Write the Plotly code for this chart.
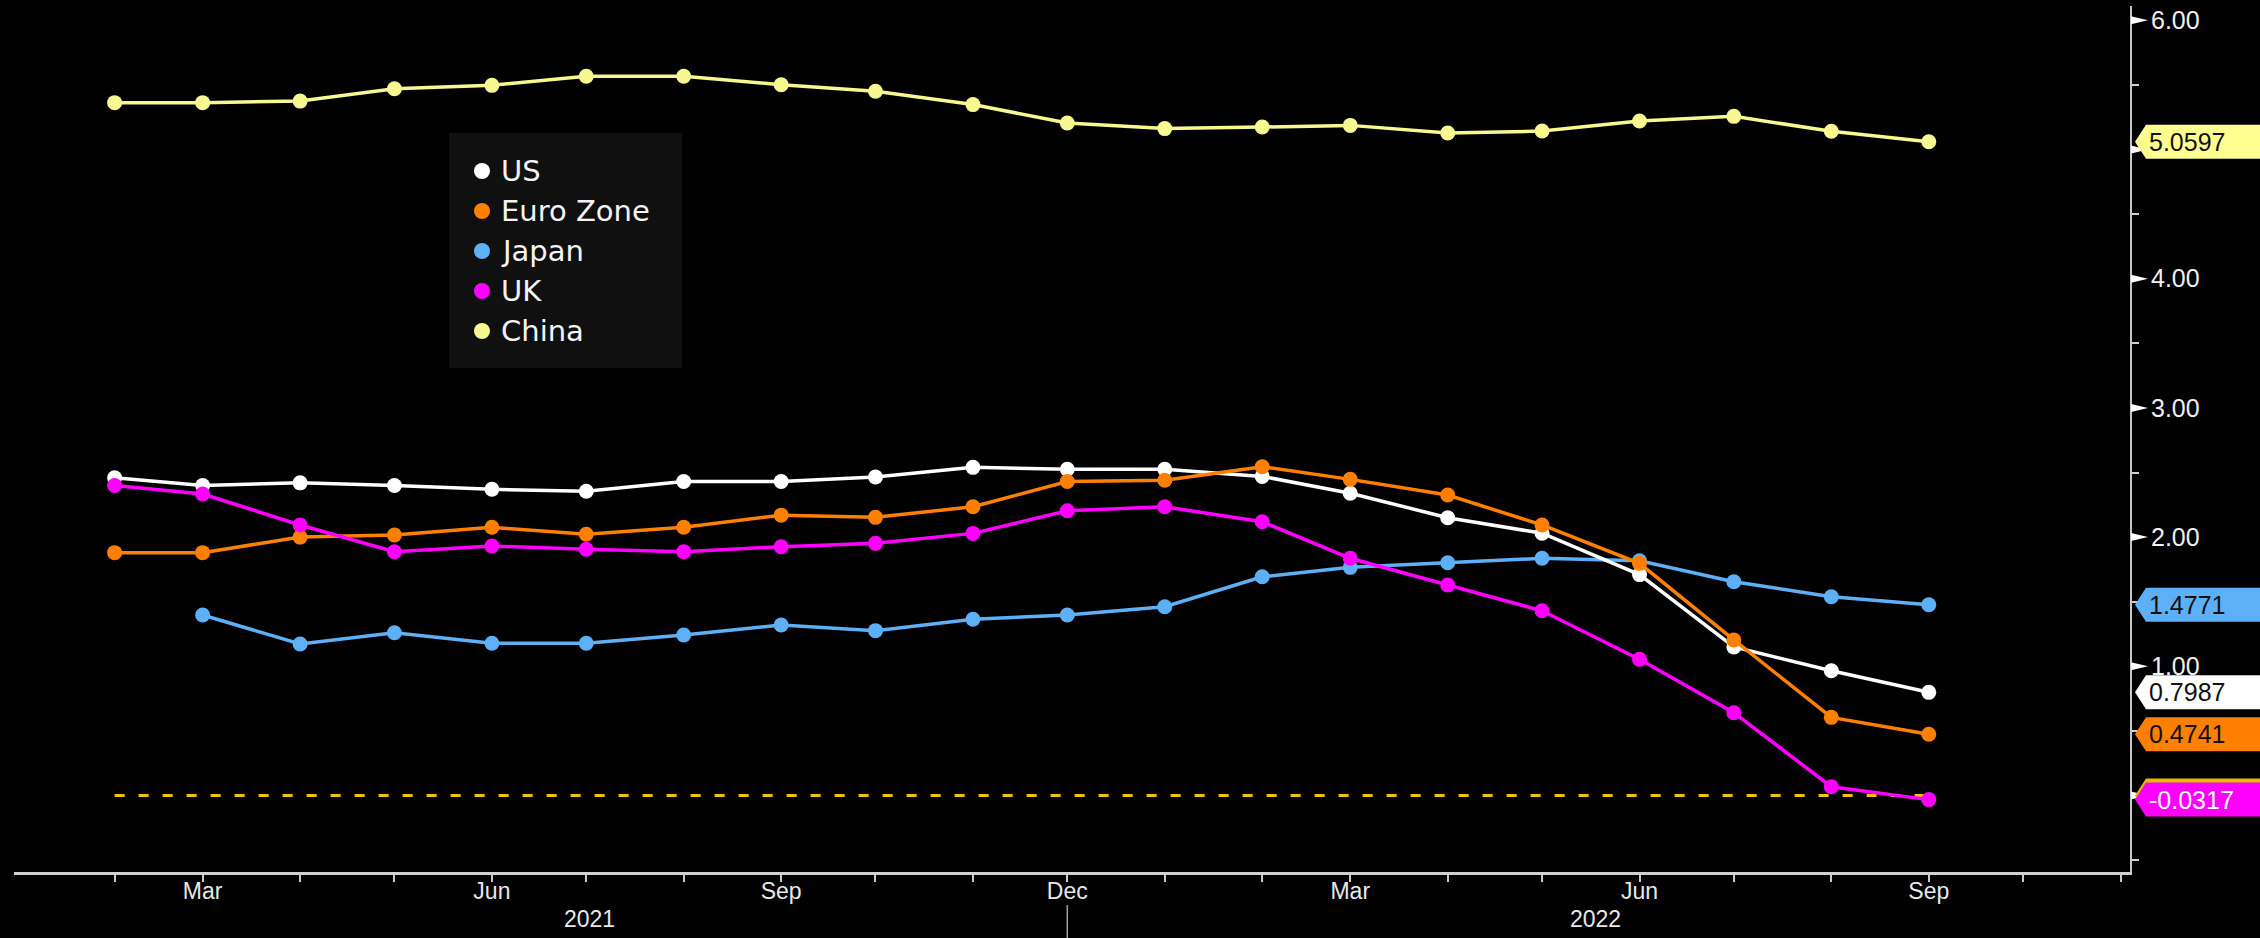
import plotly.graph_objects as go
import pandas as pd

# ---------------- data ----------------
dates = pd.date_range("2021-02-01", "2022-09-01", freq="MS")

us = [2.46, 2.40, 2.42, 2.40, 2.37, 2.355, 2.43, 2.43, 2.465, 2.54,
      2.525, 2.525, 2.47, 2.34, 2.15, 2.03, 1.71, 1.15, 0.966, 0.7987]
euro = [1.88, 1.88, 2.00, 2.016, 2.076, 2.022, 2.076, 2.17, 2.153, 2.235,
        2.43, 2.44, 2.545, 2.447, 2.326, 2.094, 1.797, 1.204, 0.605, 0.4741]
japan = [None, 1.397, 1.173, 1.26, 1.178, 1.178, 1.242, 1.32, 1.276, 1.364,
         1.397, 1.461, 1.693, 1.766, 1.802, 1.836, 1.817, 1.655, 1.539, 1.4771]
uk = [2.40, 2.334, 2.094, 1.887, 1.931, 1.906, 1.887, 1.926, 1.952, 2.029,
      2.204, 2.235, 2.119, 1.836, 1.629, 1.43, 1.054, 0.641, 0.068, -0.0317]
china = [5.363, 5.363, 5.375, 5.471, 5.497, 5.567, 5.567, 5.502, 5.451, 5.348,
         5.205, 5.162, 5.174, 5.187, 5.128, 5.143, 5.221, 5.257, 5.141, 5.0597]

series_names = ["US", "Euro Zone", "Japan", "UK", "China"]
series_colors = ["#ffffff", "#ff8000", "#5eb0f6", "#ff00ff", "#f8f890"]
label_bg = ["#ffffff", "#ff8000", "#5eb0f6", "#ff00ff", "#ffff90"]
label_fg = ["#111111", "#111111", "#111111", "#ffffff", "#111111"]
last_labels = ["0.7987", "0.4741", "1.4771", "-0.0317", "5.0597"]
zero_level = 0.0

y_tick_marks = [0, 1, 2, 3, 4, 5, 6]
y_tick_labels = [1, 2, 3, 4, 6]   # 0.00 and 5.00 sit under the value labels
tick_months = pd.date_range("2021-02-01", "2022-11-01", freq="MS")
year_labels = ["2021", "2022"]
year_label_dates = ["2021-07-02", "2022-05-18"]
year_sep_date = "2021-12-01"

# ---------------- layout geometry ----------------
W, H = 2260, 938
ML, MR, MT, MB = 14, 130, 6, 66
PW = W - ML - MR
PH = H - MT - MB


def px(xpix):
    return (xpix - ML) / PW


def py(ypix):
    return (H - MB - ypix) / PH


Y0, Y1 = -0.592, 6.111
UPP = (Y1 - Y0) / PH  # data units per pixel

fig = go.Figure()

series = {"US": us, "Euro Zone": euro, "Japan": japan, "UK": uk, "China": china}
draw_order = ["China", "Japan", "US", "Euro Zone", "UK"]
for name in draw_order:
    i = series_names.index(name)
    fig.add_trace(go.Scatter(
        x=dates, y=series[name], mode="lines+markers", name=name,
        line=dict(color=series_colors[i], width=3.5),
        marker=dict(color=series_colors[i], size=15),
        connectgaps=False, showlegend=False,
    ))

shapes = []
annotations = []

# zero dashed line
shapes.append(dict(type="line", xref="x", yref="y", x0=dates[0], x1=dates[-1],
                   y0=zero_level, y1=zero_level,
                   line=dict(color="#f2c200", width=3, dash="10px,14px"), layer="below"))

# y major tick triangles
for t in y_tick_marks:
    d = 4 * UPP
    shapes.append(dict(type="path", xref="paper", yref="y",
                       path=f"M {px(2131)},{t - d} L {px(2148)},{t} L {px(2131)},{t + d} Z",
                       fillcolor="#ffffff", line=dict(width=0), layer="above"))

# year separator
shapes.append(dict(type="line", xref="x", yref="paper", x0=year_sep_date, x1=year_sep_date,
                   y0=py(905), y1=py(940), line=dict(color="#a0a0a0", width=1.5)))


def add_value_label(val, bg, fg, text):
    h = 17 * UPP
    path = (f"M {px(2135)},{val} L {px(2146)},{val + h} L {px(2265)},{val + h} "
            f"L {px(2265)},{val - h} L {px(2146)},{val - h} Z")
    shapes.append(dict(type="path", xref="paper", yref="y", path=path,
                       fillcolor=bg, line=dict(width=0), layer="above"))
    if text:
        annotations.append(dict(xref="paper", yref="y", x=px(2147), y=val, text=text,
                                showarrow=False, xanchor="left", yanchor="middle",
                                font=dict(family="Liberation Sans, Arial", size=25, color=fg)))


# hidden gold label for zero line (behind UK label)
add_value_label(zero_level, "#e6b800", "#111111", "")
for name in ["China", "Japan", "US", "Euro Zone", "UK"]:
    i = series_names.index(name)
    add_value_label(series[name][-1], label_bg[i], label_fg[i], last_labels[i])

# legend box
shapes.append(dict(type="rect", xref="paper", yref="paper",
                   x0=px(449), x1=px(682), y0=py(368), y1=py(133),
                   fillcolor="#101010", line=dict(width=0), layer="above"))
leg_rows = [171, 211, 251, 291, 331]
for i, name in enumerate(series_names):
    yc = leg_rows[i]
    shapes.append(dict(type="circle", xref="paper", yref="paper",
                       x0=px(474), x1=px(490), y0=py(yc + 8), y1=py(yc - 8),
                       fillcolor=series_colors[i], line=dict(width=0), layer="above"))
    annotations.append(dict(xref="paper", yref="paper", x=px(499), y=py(yc), text=name,
                            showarrow=False, xanchor="left", yanchor="middle",
                            font=dict(family="DejaVu Sans", size=29, color="#f4f4f4")))

# year labels
for lbl, d in zip(year_labels, year_label_dates):
    annotations.append(dict(xref="x", yref="paper", x=d, y=py(919), text=lbl,
                            showarrow=False, xanchor="center", yanchor="middle",
                            font=dict(family="Liberation Sans, Arial", size=23, color="#e8e8e8")))

tick_text = [m.strftime("%b") if m.month in (3, 6, 9, 12) else "" for m in tick_months]

fig.update_layout(
    width=W, height=H,
    margin=dict(l=ML, r=MR, t=MT, b=MB),
    paper_bgcolor="#000000", plot_bgcolor="#000000",
    shapes=shapes, annotations=annotations,
    showlegend=False,
    xaxis=dict(
        type="date", range=["2020-12-31", "2022-11-04"],
        tickmode="array", tickvals=tick_months, ticktext=tick_text,
        ticks="outside", ticklen=7, tickwidth=2, tickcolor="#c8c8c8",
        ticklabelstandoff=-11,
        showline=True, linecolor="#d0d0d0", linewidth=3,
        showgrid=False, zeroline=False,
        tickfont=dict(family="Liberation Sans, Arial", size=23, color="#e8e8e8"),
    ),
    yaxis=dict(
        side="right", range=[Y0, Y1],
        tickmode="array", tickvals=y_tick_labels, tickformat=".2f",
        ticks="outside", ticklen=14, tickcolor="rgba(0,0,0,0)",
        minor=dict(dtick=0.5, tick0=0, ticks="outside", ticklen=7, tickwidth=2,
                   tickcolor="#d0d0d0", showgrid=False),
        showline=True, linecolor="#c8c8c8", linewidth=2,
        showgrid=False, zeroline=False,
        tickfont=dict(family="Liberation Sans, Arial", size=25, color="#f0f0f0"),
    ),
)

fig.write_html("out.html")
